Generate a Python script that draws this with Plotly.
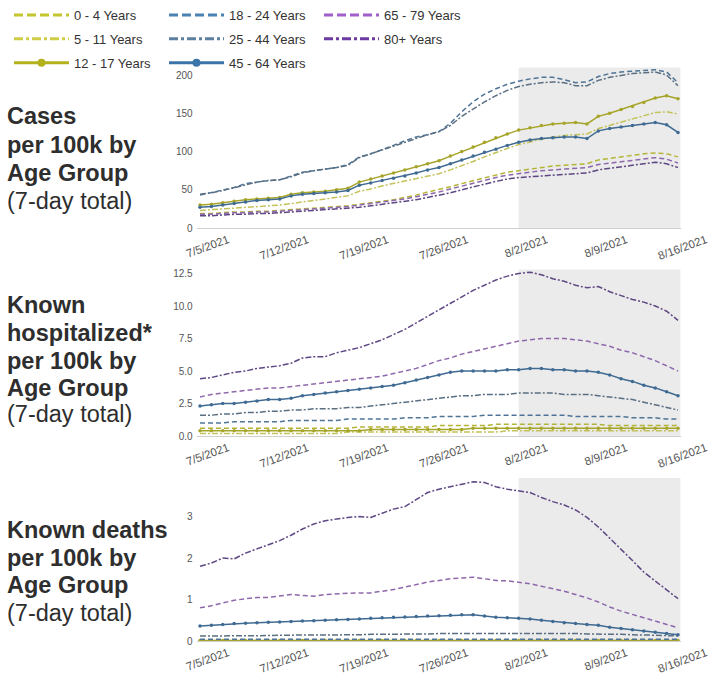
import pandas as pd
import plotly.graph_objects as go

# ---------------- data ----------------
dates = pd.date_range("2021-07-05", "2021-08-16", freq="D")
tick_dates = ["2021-07-05", "2021-07-12", "2021-07-19", "2021-07-26",
              "2021-08-02", "2021-08-09", "2021-08-16"]
tick_labels = ["7/5/2021", "7/12/2021", "7/19/2021", "7/26/2021",
               "8/2/2021", "8/9/2021", "8/16/2021"]
age_groups = ["0 - 4 Years", "5 - 11 Years", "12 - 17 Years", "18 - 24 Years",
              "25 - 44 Years", "45 - 64 Years", "65 - 79 Years", "80+ Years"]
shade_start = "2021-08-02"
shade_end = "2021-08-16 05:00"

# Cases per 100k (7-day total)
cases_0_4 = [19, 19, 20, 21, 21, 22, 22, 23, 24, 25, 26, 27, 28, 29, 31, 33, 35, 37, 40, 43, 47,
             50, 54, 58, 62, 66, 70, 73, 75, 77, 79, 81, 82, 83, 84, 89, 91, 93, 95, 97, 98, 97, 93]
cases_5_11 = [23, 24, 25, 26, 27, 28, 29, 30, 32, 34, 36, 38, 40, 42, 48, 51, 55, 58, 61, 64, 67,
              71, 76, 81, 87, 93, 99, 104, 109, 113, 116, 119, 121, 122, 123, 130, 134, 138, 142, 147, 151, 152, 149]
cases_12_17 = [30, 31, 33, 35, 37, 38, 39, 40, 44, 46, 47, 48, 50, 52, 60, 64, 68, 72, 76, 80, 84,
               88, 94, 100, 106, 112, 118, 123, 128, 131, 134, 136, 137, 138, 136, 146, 150, 155, 159, 164, 170, 173, 169]
cases_18_24 = [43, 46, 49, 53, 58, 60, 62, 63, 68, 73, 75, 77, 79, 83, 93, 97, 102, 108, 114, 119, 122,
               126, 137, 152, 165, 175, 182, 188, 192, 195, 197, 197, 194, 190, 191, 198, 202, 204, 205, 206, 207, 204, 190]
cases_25_44 = [44, 46, 49, 53, 57, 60, 62, 63, 67, 72, 75, 77, 79, 82, 92, 97, 102, 108, 113, 118, 122,
               126, 134, 146, 156, 165, 173, 180, 185, 188, 190, 191, 190, 186, 186, 193, 197, 200, 202, 203, 204, 200, 186]
cases_45_64 = [27, 28, 30, 32, 34, 36, 37, 38, 42, 44, 45, 46, 47, 49, 56, 59, 62, 65, 68, 72, 76,
               79, 84, 89, 94, 99, 103, 108, 112, 115, 117, 118, 119, 119, 117, 127, 130, 132, 134, 136, 138, 135, 125]
cases_65_79 = [18, 18, 19, 20, 20, 21, 21, 22, 23, 24, 25, 26, 27, 28, 30, 32, 34, 36, 38, 41, 44,
               47, 51, 55, 59, 63, 66, 69, 71, 73, 75, 76, 77, 78, 79, 83, 85, 87, 89, 91, 92, 90, 85]
cases_80 = [16, 16, 17, 18, 18, 19, 19, 20, 21, 22, 23, 24, 25, 26, 27, 29, 31, 33, 35, 37, 40,
            43, 46, 50, 54, 58, 61, 64, 66, 67, 68, 69, 70, 71, 72, 76, 78, 80, 82, 84, 86, 84, 79]

# Known hospitalized per 100k (7-day total)
hosp_0_4 = [0.6, 0.6, 0.6, 0.6, 0.6, 0.6, 0.6, 0.6, 0.6, 0.6, 0.6, 0.6, 0.6, 0.6, 0.7, 0.7, 0.7, 0.7, 0.7, 0.7, 0.7,
            0.8, 0.8, 0.8, 0.8, 0.8, 0.9, 0.9, 0.9, 0.9, 0.9, 0.9, 0.9, 0.9, 0.9, 0.9, 0.8, 0.8, 0.8, 0.8, 0.8, 0.8, 0.8]
hosp_5_11 = [0.2, 0.2, 0.2, 0.2, 0.2, 0.2, 0.2, 0.2, 0.2, 0.2, 0.2, 0.2, 0.2, 0.3, 0.3, 0.3, 0.3, 0.3, 0.3, 0.3, 0.3,
             0.3, 0.3, 0.3, 0.3, 0.3, 0.3, 0.4, 0.4, 0.4, 0.4, 0.4, 0.4, 0.4, 0.4, 0.4, 0.4, 0.4, 0.4, 0.4, 0.4, 0.4, 0.4]
hosp_12_17 = [0.4, 0.4, 0.4, 0.4, 0.4, 0.4, 0.4, 0.4, 0.4, 0.4, 0.4, 0.4, 0.4, 0.4, 0.4, 0.5, 0.5, 0.5, 0.5, 0.5, 0.5,
              0.5, 0.5, 0.5, 0.6, 0.6, 0.6, 0.6, 0.6, 0.6, 0.6, 0.6, 0.6, 0.6, 0.6, 0.6, 0.6, 0.6, 0.6, 0.6, 0.6, 0.6, 0.6]
hosp_18_24 = [1.0, 1.0, 1.0, 1.1, 1.1, 1.1, 1.1, 1.1, 1.2, 1.2, 1.2, 1.2, 1.2, 1.3, 1.3, 1.3, 1.3, 1.3, 1.4, 1.4, 1.4,
              1.5, 1.5, 1.5, 1.5, 1.6, 1.6, 1.6, 1.6, 1.6, 1.6, 1.6, 1.6, 1.5, 1.5, 1.5, 1.5, 1.5, 1.4, 1.4, 1.4, 1.3, 1.3]
hosp_25_44 = [1.6, 1.6, 1.7, 1.7, 1.8, 1.8, 1.9, 1.9, 2.0, 2.0, 2.1, 2.1, 2.1, 2.2, 2.2, 2.3, 2.4, 2.5, 2.6, 2.7, 2.8,
              2.9, 3.0, 3.1, 3.1, 3.2, 3.2, 3.2, 3.3, 3.3, 3.3, 3.3, 3.2, 3.2, 3.2, 3.1, 3.0, 2.9, 2.8, 2.6, 2.4, 2.2, 2.0]
hosp_45_64 = [2.3, 2.4, 2.5, 2.5, 2.6, 2.7, 2.8, 2.8, 2.9, 3.1, 3.2, 3.3, 3.4, 3.5, 3.6, 3.7, 3.8, 3.9, 4.1, 4.3, 4.5,
              4.7, 4.9, 5.0, 5.0, 5.0, 5.0, 5.1, 5.1, 5.2, 5.2, 5.1, 5.1, 5.0, 5.0, 4.9, 4.7, 4.4, 4.2, 3.9, 3.7, 3.4, 3.1]
hosp_65_79 = [3.0, 3.2, 3.3, 3.4, 3.5, 3.6, 3.7, 3.7, 3.8, 3.9, 4.0, 4.1, 4.2, 4.3, 4.4, 4.5, 4.6, 4.8, 5.0, 5.2, 5.5,
              5.8, 6.0, 6.3, 6.5, 6.7, 6.9, 7.1, 7.3, 7.4, 7.5, 7.5, 7.5, 7.4, 7.3, 7.1, 6.9, 6.6, 6.4, 6.1, 5.8, 5.4, 5.0]
hosp_80 = [4.4, 4.5, 4.7, 4.9, 5.0, 5.2, 5.3, 5.4, 5.6, 6.0, 6.1, 6.1, 6.4, 6.6, 6.8, 7.1, 7.4, 7.8, 8.2, 8.7, 9.2,
           9.7, 10.2, 10.7, 11.2, 11.6, 12.0, 12.3, 12.5, 12.6, 12.4, 12.1, 11.9, 11.6, 11.4, 11.5, 11.1, 10.8, 10.5, 10.3, 10.0, 9.6, 8.9]

# Known deaths per 100k (7-day total)
death_0_4 = [0.01, 0.01, 0.01, 0.01, 0.01, 0.01, 0.01, 0.01, 0.01, 0.01, 0.01, 0.01, 0.01, 0.01, 0.01, 0.01, 0.01, 0.01, 0.01, 0.01, 0.01,
             0.01, 0.01, 0.01, 0.01, 0.01, 0.01, 0.01, 0.01, 0.01, 0.01, 0.01, 0.01, 0.01, 0.01, 0.01, 0.01, 0.01, 0.01, 0.01, 0.01, 0.01, 0.01]
death_5_11 = [0.0, 0.0, 0.0, 0.0, 0.0, 0.0, 0.0, 0.0, 0.0, 0.0, 0.0, 0.0, 0.0, 0.0, 0.0, 0.0, 0.0, 0.0, 0.0, 0.0, 0.0,
              0.0, 0.0, 0.0, 0.0, 0.0, 0.0, 0.0, 0.0, 0.0, 0.0, 0.0, 0.0, 0.0, 0.0, 0.0, 0.0, 0.0, 0.0, 0.0, 0.0, 0.0, 0.0]
death_12_17 = [0.01, 0.01, 0.01, 0.01, 0.01, 0.01, 0.01, 0.01, 0.01, 0.01, 0.01, 0.01, 0.01, 0.01, 0.01, 0.01, 0.01, 0.01, 0.01, 0.01, 0.01,
               0.01, 0.01, 0.01, 0.01, 0.01, 0.01, 0.01, 0.01, 0.01, 0.01, 0.01, 0.01, 0.01, 0.01, 0.01, 0.01, 0.01, 0.01, 0.01, 0.01, 0.01, 0.01]
death_18_24 = [0.04, 0.04, 0.04, 0.04, 0.04, 0.04, 0.04, 0.05, 0.05, 0.05, 0.05, 0.05, 0.05, 0.05, 0.05, 0.05, 0.05, 0.05, 0.05, 0.05, 0.05,
               0.05, 0.05, 0.05, 0.05, 0.05, 0.05, 0.05, 0.05, 0.05, 0.05, 0.05, 0.05, 0.05, 0.05, 0.05, 0.04, 0.04, 0.04, 0.04, 0.04, 0.04, 0.04]
death_25_44 = [0.12, 0.12, 0.12, 0.13, 0.13, 0.13, 0.13, 0.14, 0.14, 0.14, 0.14, 0.15, 0.15, 0.15, 0.15, 0.16, 0.16, 0.16, 0.17, 0.17, 0.17,
               0.18, 0.18, 0.18, 0.19, 0.19, 0.19, 0.19, 0.19, 0.19, 0.19, 0.18, 0.18, 0.18, 0.17, 0.17, 0.16, 0.16, 0.15, 0.15, 0.14, 0.13, 0.12]
death_45_64 = [0.36, 0.38, 0.40, 0.42, 0.43, 0.44, 0.45, 0.46, 0.47, 0.48, 0.49, 0.50, 0.51, 0.52, 0.53, 0.55, 0.56, 0.57, 0.58, 0.59, 0.60,
               0.61, 0.62, 0.63, 0.63, 0.60, 0.57, 0.56, 0.55, 0.53, 0.50, 0.47, 0.44, 0.42, 0.40, 0.38, 0.33, 0.30, 0.27, 0.24, 0.21, 0.18, 0.15]
death_65_79 = [0.80, 0.85, 0.92, 0.98, 1.02, 1.05, 1.05, 1.08, 1.12, 1.10, 1.08, 1.12, 1.14, 1.15, 1.16, 1.16, 1.20, 1.24, 1.30, 1.36, 1.42,
               1.46, 1.50, 1.52, 1.54, 1.50, 1.46, 1.45, 1.42, 1.38, 1.32, 1.26, 1.20, 1.12, 1.04, 0.94, 0.82, 0.72, 0.64, 0.56, 0.48, 0.40, 0.32]
death_80 = [1.80, 1.88, 2.00, 1.98, 2.12, 2.22, 2.32, 2.42, 2.55, 2.70, 2.82, 2.90, 2.94, 2.98, 3.00, 2.98, 3.08, 3.18, 3.24, 3.42, 3.58,
            3.66, 3.72, 3.78, 3.84, 3.82, 3.72, 3.66, 3.62, 3.58, 3.46, 3.36, 3.28, 3.16, 2.98, 2.75, 2.48, 2.22, 1.94, 1.66, 1.44, 1.24, 1.02]

panels = [
    [cases_0_4, cases_5_11, cases_12_17, cases_18_24, cases_25_44, cases_45_64, cases_65_79, cases_80],
    [hosp_0_4, hosp_5_11, hosp_12_17, hosp_18_24, hosp_25_44, hosp_45_64, hosp_65_79, hosp_80],
    [death_0_4, death_5_11, death_12_17, death_18_24, death_25_44, death_45_64, death_65_79, death_80],
]

# ---------------- styles ----------------
colors = ["#c3c62e", "#cfcc48", "#b3b21c", "#4b82b4", "#5b7f9e", "#3a74a8", "#a05fcc", "#6c3aa0"]
line_colors = ["#b4b536", "#c4c25a", "#a6a52a", "#4f7496", "#5a6f82", "#3f6b93", "#8e68ad", "#5f4784"]
kinds = ["dash", "dashdot", "solid", "dash", "dashdot", "solid", "dash", "dashdot"]
plot_dash = {"dash": "5px,3px", "dashdot": "6px,2px,2px,2px", "solid": "solid"}
leg_dash = {"dash": "9px,4px", "dashdot": "9px,3px,3px,3px", "solid": "solid"}
legend_of = ["legend", "legend", "legend", "legend2", "legend2", "legend2", "legend3", "legend3"]

fig = go.Figure()

# legend entries (thick line samples)
for i, name in enumerate(age_groups):
    k = kinds[i]
    fig.add_trace(go.Scatter(
        x=[None], y=[None], name=name, legend=legend_of[i], legendgroup=f"g{i}",
        mode="lines+markers" if k == "solid" else "lines",
        line=dict(color=colors[i], width=3, dash=leg_dash[k]),
        marker=dict(size=8, color=colors[i]),
        xaxis="x", yaxis="y", showlegend=True, hoverinfo="skip"))

for p, series in enumerate(panels):
    xa = "x" if p == 0 else f"x{p+1}"
    ya = "y" if p == 0 else f"y{p+1}"
    for i, vals in enumerate(series):
        k = kinds[i]
        fig.add_trace(go.Scatter(
            x=dates, y=vals, name=age_groups[i], showlegend=False,
            mode="lines+markers" if k == "solid" else "lines",
            line=dict(color=line_colors[i], width=1.5, dash=plot_dash[k]),
            marker=dict(size=3.5, color=line_colors[i]),
            xaxis=xa, yaxis=ya))

W, H = 714, 685
x_dom = [196.6 / W, 681.4 / W]
x_range = ["2021-07-04 16:48", "2021-08-16 07:12"]

def ydom(bottom_px, top_px):
    return [(H - bottom_px) / H, (H - top_px) / H]

xtickfont = dict(family="Liberation Sans, Arial, sans-serif", size=11.5, color="#555555")
ytickfont = dict(family="Liberation Sans, Arial, sans-serif", size=10, color="#555555")

def xaxis_cfg(anchor):
    return dict(domain=x_dom, range=x_range, anchor=anchor, type="date",
                tickvals=tick_dates, ticktext=tick_labels, tickangle=-20,
                tickfont=xtickfont, showgrid=False, zeroline=False,
                showline=True, linecolor="#cfcfcf", linewidth=1,
                ticks="", ticklabelshift=28, ticklabelstandoff=0, automargin=False)

def yaxis_cfg(anchor, dom, rng, vals, fmt):
    return dict(domain=dom, range=rng, anchor=anchor, tickvals=vals, tickformat=fmt,
                tickfont=ytickfont, showgrid=False, zeroline=False, showline=False,
                ticks="", ticklabelstandoff=3, automargin=False)

shapes = []
for xr, yr in [("x", "y domain"), ("x2", "y2 domain"), ("x3", "y3 domain")]:
    shapes.append(dict(type="rect", xref=xr, yref=yr, x0=shade_start, x1=shade_end,
                       y0=0, y1=1, fillcolor="#ebebeb", line=dict(width=0), layer="below"))

title_font = dict(family="Liberation Sans, Arial, sans-serif", size=23.5, color="#2e2e2e")
label_lines = [
    (["<b>Cases</b>", "<b>per 100k by</b>", "<b>Age Group</b>", "(7-day total)"], [116, 145, 173, 201]),
    (["<b>Known</b>", "<b>hospitalized*</b>", "<b>per 100k by</b>", "<b>Age Group</b>", "(7-day total)"],
     [305, 333, 361, 388, 414]),
    (["<b>Known deaths</b>", "<b>per 100k by</b>", "<b>Age Group</b>", "(7-day total)"], [530, 558, 585, 613]),
]
annotations = []
for lines, ys in label_lines:
    for txt, ypx in zip(lines, ys):
        annotations.append(dict(text=txt, x=5 / W, y=(H - ypx) / H, xref="paper", yref="paper",
                                xanchor="left", yanchor="middle", showarrow=False, font=title_font))

legfont = dict(family="Liberation Sans, Arial, sans-serif", size=13, color="#333333")

def legend_cfg(xpx):
    return dict(x=xpx / W, y=1.0, xanchor="left", yanchor="top", orientation="v",
                font=legfont, bgcolor="rgba(0,0,0,0)", borderwidth=0, itemwidth=55,
                tracegroupgap=4)

fig.update_layout(
    width=W, height=H, autosize=False,
    margin=dict(l=0, r=0, t=0, b=0, pad=0, autoexpand=False),
    paper_bgcolor="white", plot_bgcolor="white",
    xaxis=xaxis_cfg("y"), xaxis2=xaxis_cfg("y2"), xaxis3=xaxis_cfg("y3"),
    yaxis=yaxis_cfg("x", ydom(228, 67.4), [0, 210], [0, 50, 100, 150, 200], "d"),
    yaxis2=yaxis_cfg("x2", ydom(436, 269.6), [0, 12.8], [0, 2.5, 5, 7.5, 10, 12.5], ".1f"),
    yaxis3=yaxis_cfg("x3", ydom(641, 478), [0, 3.93], [0, 1, 2, 3], "d"),
    shapes=shapes, annotations=annotations,
    legend=legend_cfg(9), legend2=legend_cfg(164), legend3=legend_cfg(319),
    showlegend=True,
)

fig.write_html("out.html", config={"displayModeBar": False},
               post_script="document.body.style.margin='0px';")
